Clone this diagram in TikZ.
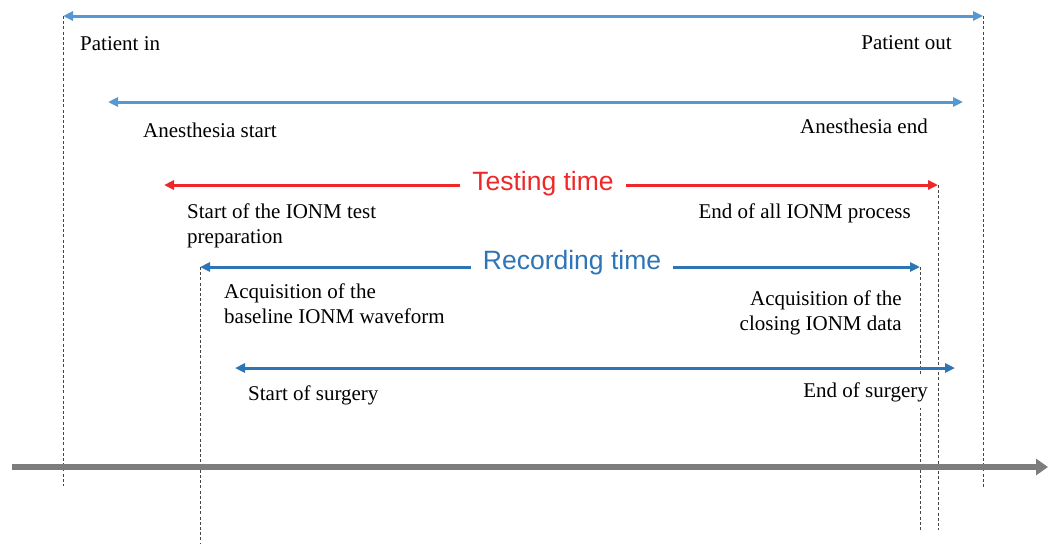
\documentclass[tikz,border=0pt]{standalone}
\usepackage{fontspec}
\setmainfont{Liberation Serif}
\newfontfamily\labsans{Liberation Sans}
\usetikzlibrary{arrows.meta}
\definecolor{lblue}{RGB}{86,152,212}
\definecolor{dblue}{RGB}{46,117,182}
\definecolor{tred}{RGB}{238,40,40}
\definecolor{tgray}{RGB}{125,125,125}
\definecolor{dashc}{RGB}{70,70,70}
\tikzset{
  lbl/.style={font=\fontsize{21}{25}\selectfont, inner sep=0pt, text=black},
  span/.style={line width=3pt, {Triangle[length=10pt,width=9pt]}-{Triangle[length=10pt,width=9pt]}},
  vguide/.style={draw=dashc, line width=0.9pt, dash pattern=on 3pt off 2.2pt},
  bigtitle/.style={font=\labsans\fontsize{26.5}{30}\selectfont, fill=white, inner xsep=12pt, inner ysep=2pt},
}
\begin{document}
\begin{tikzpicture}[x=1pt,y=-1pt]
\useasboundingbox (0,0) rectangle (1048,544);
% endpoints
\coordinate (pinA) at (63,16);   \coordinate (poutA) at (983,16);
\coordinate (anA) at (108,102);  \coordinate (anB) at (963,102);
\coordinate (teA) at (164,185);  \coordinate (teB) at (938,185);
\coordinate (reA) at (200,267);  \coordinate (reB) at (920,267);
\coordinate (suA) at (235,368);  \coordinate (suB) at (955,368);
\coordinate (g1) at (63,486);  \coordinate (g2) at (983,487);
\coordinate (g3) at (200,544); \coordinate (g4) at (920,530);
\coordinate (g5) at (938,530);
\coordinate (tlA) at (12,467);  \coordinate (tlB) at (1048,467);
% guides
\draw[vguide] (pinA) -- (g1);
\draw[vguide] (poutA) -- (g2);
\draw[vguide] (reA) -- (g3);
\draw[vguide] (reB) -- (g4);
\draw[vguide] (teB) -- (g5);
% timeline
\draw[tgray, line width=5.5pt, -{Triangle[length=12pt,width=16pt]}] (tlA) -- (tlB);
% spans
\draw[span, lblue] (pinA) -- (poutA);
\draw[span, lblue] (anA) -- (anB);
\draw[span, tred] (teA) -- (teB);
\draw[span, dblue] (reA) -- (reB);
\draw[span, dblue] (suA) -- (suB);
% titles
\node[bigtitle, text=tred] (testing) at (543,184) {Testing time};
\node[bigtitle, text=dblue] (recording) at (572,263) {Recording time};
% labels
\node[lbl, anchor=base west] (pin) at (80,50) {Patient in};
\node[lbl, anchor=base east] (pout) at (952,49) {Patient out};
\node[lbl, anchor=base west] (anst) at (143,137) {Anesthesia start};
\node[lbl, anchor=base east] (anen) at (928,133) {Anesthesia end};
\node[lbl, anchor=base west, align=left] (ionms) at (187,243) {Start of the IONM test\\preparation};
\node[lbl, anchor=base east] (ionme) at (911,218) {End of all IONM process};
\node[lbl, anchor=base west, align=left] (acqb) at (224,323) {Acquisition of the\\baseline IONM waveform};
\node[lbl, anchor=base east, align=right] (acqc) at (902,330) {Acquisition of the\\closing IONM data};
\node[lbl, anchor=base west] (sust) at (248,400) {Start of surgery};
\node[lbl, anchor=base east, fill=white, inner xsep=8pt, inner ysep=6pt] (suen) at (936,397) {End of surgery};
\end{tikzpicture}
\end{document}
